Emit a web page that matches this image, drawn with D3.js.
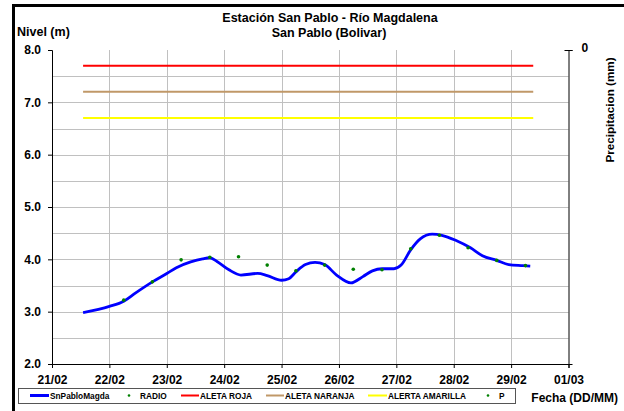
<!DOCTYPE html>
<html>
<head>
<meta charset="utf-8">
<script src="https://cdn.jsdelivr.net/npm/d3@7"></script>
<style>
  body { margin: 0; background: #fff; }
  text { font-family: "Liberation Sans", Arial, sans-serif; font-weight: bold; fill: #000; }
</style>
</head>
<body>
<div id="chart"></div>
<script>
// nivel del rio (m), lectura del sensor
var nivelFechas = ["2016-02-21 13:00", "2016-02-22 00:00", "2016-02-22 06:00", "2016-02-22 11:00", "2016-02-22 18:00",
  "2016-02-23 00:00", "2016-02-23 04:00", "2016-02-23 10:00", "2016-02-23 15:00", "2016-02-23 18:00",
  "2016-02-23 21:00", "2016-02-24 02:00", "2016-02-24 07:00", "2016-02-24 14:00", "2016-02-24 18:00",
  "2016-02-25 00:00", "2016-02-25 03:00", "2016-02-25 06:00", "2016-02-25 10:00", "2016-02-25 14:00",
  "2016-02-25 18:00", "2016-02-25 23:00", "2016-02-26 05:00", "2016-02-26 10:00", "2016-02-26 14:00",
  "2016-02-26 18:00", "2016-02-26 23:00", "2016-02-27 02:00", "2016-02-27 06:00", "2016-02-27 10:00",
  "2016-02-27 15:00", "2016-02-27 19:00", "2016-02-28 01:00", "2016-02-28 07:00", "2016-02-28 12:00",
  "2016-02-28 18:00", "2016-02-28 23:00", "2016-02-29 05:00", "2016-02-29 08:00"];
var nivelValores = [2.98, 3.10, 3.20, 3.36, 3.57,
  3.73, 3.84, 3.95, 4.01, 4.03,
  3.96, 3.80, 3.70, 3.73, 3.69,
  3.60, 3.63, 3.76, 3.90, 3.94,
  3.90, 3.70, 3.55, 3.67, 3.78,
  3.82, 3.82, 3.89, 4.18, 4.39,
  4.48, 4.46, 4.36, 4.22, 4.07,
  3.98, 3.90, 3.88, 3.87];

// lecturas por radio
var radioFechas = ["2016-02-22 06:00", "2016-02-22 18:00", "2016-02-23 06:00", "2016-02-23 18:00", "2016-02-24 06:00",
  "2016-02-24 18:00", "2016-02-25 06:00", "2016-02-25 18:00", "2016-02-26 06:00", "2016-02-26 18:00",
  "2016-02-27 06:00", "2016-02-27 18:00", "2016-02-28 06:00", "2016-02-28 18:00", "2016-02-29 06:00"];
var radioValores = [3.22, 3.57, 3.99, 4.04, 4.05,
  3.89, 3.78, 3.89, 3.81, 3.80,
  4.20, 4.46, 4.22, 3.98, 3.88];

// niveles de alerta
var alertaNombres = ["ALETA ROJA", "ALETA NARANJA", "ALERTA AMARILLA"];
var alertaValores = [7.7, 7.2, 6.7];
var alertaColores = ["#ff0000", "#c09868", "#ffff00"];

var yTicks = [2, 3, 4, 5, 6, 7, 8];
var precipTicks = [0];

var parse = d3.timeParse("%Y-%m-%d %H:%M");
var nivel = nivelFechas.map(function (f, i) { return { t: parse(f), v: nivelValores[i] }; });
var radio = radioFechas.map(function (f, i) { return { t: parse(f), v: radioValores[i] }; });

var margin = { top: 50, right: 55.5, bottom: 47, left: 52 },
    W = 624, H = 411,
    width = W - margin.left - margin.right,
    height = H - margin.top - margin.bottom;

var svg = d3.select("#chart").append("svg")
    .attr("width", W)
    .attr("height", H);

// marco exterior
svg.append("line").attr("x1", 13.5).attr("x2", 13.5).attr("y1", 4).attr("y2", H)
    .attr("stroke", "#000").attr("stroke-width", 3);
svg.append("line").attr("x1", 12).attr("x2", W).attr("y1", 5.5).attr("y2", 5.5)
    .attr("stroke", "#000").attr("stroke-width", 3);

var g = svg.append("g")
    .attr("transform", "translate(" + margin.left + "," + margin.top + ")");

var x = d3.scaleTime()
    .domain([parse("2016-02-21 00:00"), parse("2016-03-01 00:00")])
    .range([0, width]);
var y = d3.scaleLinear().domain([2, 8]).range([height, 0]);
var yP = d3.scaleLinear().domain([0, 10]).range([0, height]);

// rejilla
g.append("g").selectAll("line")
    .data(d3.range(2.5, 8, 0.5))
    .enter().append("line")
    .attr("x1", 0).attr("x2", width)
    .attr("y1", function (d) { return Math.round(y(d)) + 0.5; })
    .attr("y2", function (d) { return Math.round(y(d)) + 0.5; })
    .attr("stroke", "#c0c0c0");
g.append("g").selectAll("line")
    .data(x.ticks(d3.timeDay.every(1)).slice(1, -1))
    .enter().append("line")
    .attr("x1", function (d) { return Math.round(x(d)) + 0.5; })
    .attr("x2", function (d) { return Math.round(x(d)) + 0.5; })
    .attr("y1", 0).attr("y2", height)
    .attr("stroke", "#c0c0c0");

// ejes
var xAxis = g.append("g")
    .attr("transform", "translate(0," + height + ")")
    .call(d3.axisBottom(x).ticks(d3.timeDay.every(1)).tickFormat(d3.timeFormat("%d/%m"))
        .tickSize(4).tickPadding(7));
xAxis.selectAll("text").attr("font-size", "12px");

var yAxis = g.append("g")
    .call(d3.axisLeft(y).tickValues(yTicks).tickFormat(d3.format(".1f")).tickSize(4).tickPadding(7));
yAxis.selectAll("text").attr("font-size", "12px");

var pAxis = g.append("g")
    .attr("transform", "translate(" + width + ",0)")
    .call(d3.axisRight(yP).tickValues(precipTicks).tickSize(4).tickPadding(9));
pAxis.selectAll("text").attr("font-size", "12px").attr("dy", "0.1em");
pAxis.selectAll(".tick line").attr("x1", -4);

[xAxis, yAxis, pAxis].forEach(function (a) {
    a.select(".domain").attr("stroke", "#000");
    a.selectAll(".tick line").attr("stroke", "#000");
    a.attr("font-family", null);
});

// lineas de alerta
var t0 = nivel[0].t, t1 = nivel[nivel.length - 1].t;
g.append("g").selectAll("line")
    .data(alertaValores)
    .enter().append("line")
    .attr("x1", x(t0)).attr("x2", x(t1) + 3)
    .attr("y1", function (d) { return y(d); })
    .attr("y2", function (d) { return y(d); })
    .attr("stroke", function (d, i) { return alertaColores[i]; })
    .attr("stroke-width", 2);

// nivel
var line = d3.line()
    .x(function (d) { return x(d.t); })
    .y(function (d) { return y(d.v); })
    .curve(d3.curveMonotoneX);

g.append("path")
    .datum(nivel)
    .attr("d", line)
    .attr("fill", "none")
    .attr("stroke", "#0000ff")
    .attr("stroke-width", 2.8)
    .attr("stroke-linejoin", "round");

g.append("g").selectAll("circle")
    .data(radio)
    .enter().append("circle")
    .attr("cx", function (d) { return x(d.t); })
    .attr("cy", function (d) { return y(d.v); })
    .attr("r", 1.8)
    .attr("fill", "#008000");

// titulos
svg.append("text").attr("x", 330).attr("y", 22).attr("text-anchor", "middle")
    .attr("font-size", "12.5px").text("Estación San Pablo - Río Magdalena");
svg.append("text").attr("x", 329).attr("y", 37).attr("text-anchor", "middle")
    .attr("font-size", "12.5px").text("San Pablo (Bolivar)");
svg.append("text").attr("x", 17).attr("y", 36)
    .attr("font-size", "12.5px").text("Nivel (m)");
svg.append("text")
    .attr("transform", "translate(614,110) rotate(-90)")
    .attr("text-anchor", "middle")
    .attr("font-size", "11.7px").text("Precipitacion (mm)");
svg.append("text").attr("x", 618).attr("y", 402).attr("text-anchor", "end")
    .attr("font-size", "12px").text("Fecha (DD/MM)");

// leyenda
var leg = svg.append("g");
leg.append("rect").attr("x", 18.5).attr("y", 388.5).attr("width", 497).attr("height", 15)
    .attr("fill", "#fff").attr("stroke", "#555");

var legItems = [
    { n: "SnPabloMagda", tipo: "linea", c: "#0000ff", x0: 30, tx: 50 },
    { n: "RADIO", tipo: "punto", c: "#008000", x0: 129, tx: 140 },
    { n: alertaNombres[0], tipo: "linea", c: alertaColores[0], x0: 181, tx: 200 },
    { n: alertaNombres[1], tipo: "linea", c: alertaColores[1], x0: 266, tx: 285 },
    { n: alertaNombres[2], tipo: "linea", c: alertaColores[2], x0: 368, tx: 388 },
    { n: "P", tipo: "punto", c: "#008000", x0: 488, tx: 499 }
];
legItems.forEach(function (d) {
    if (d.tipo === "linea") {
        leg.append("line").attr("x1", d.x0).attr("x2", d.tx - 1).attr("y1", 395.5).attr("y2", 395.5)
            .attr("stroke", d.c).attr("stroke-width", d.c === "#0000ff" ? 3 : 2);
    } else {
        leg.append("circle").attr("cx", d.x0).attr("cy", 395.5).attr("r", 1.3)
            .attr("fill", d.c);
    }
    leg.append("text").attr("x", d.tx).attr("y", 399).attr("font-size", "8.3px").text(d.n);
});
</script>
</body>
</html>
